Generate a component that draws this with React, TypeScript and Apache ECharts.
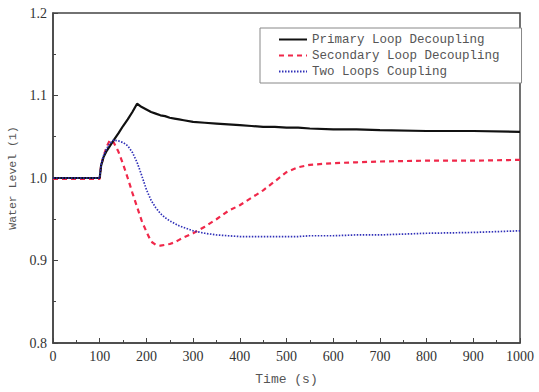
import React, { useEffect, useRef } from "react";
import * as echarts from "echarts";

const timeS = [0, 100, 103, 108, 115, 122, 130, 140, 150, 160, 170, 180, 190, 200, 210, 220, 230, 240, 250, 260, 270, 280, 300, 325, 350, 375, 400, 425, 450, 475, 500, 525, 550, 600, 650, 700, 800, 900, 1000];

const primaryLoop = [1.0, 1.0, 1.015, 1.025, 1.033, 1.039, 1.046, 1.054, 1.063, 1.071, 1.08, 1.09, 1.086, 1.083, 1.08, 1.078, 1.076, 1.075, 1.073, 1.072, 1.071, 1.07, 1.068, 1.067, 1.066, 1.065, 1.064, 1.063, 1.062, 1.062, 1.061, 1.061, 1.06, 1.059, 1.059, 1.058, 1.057, 1.057, 1.056];

const secondaryLoop = [0.999, 0.999, 1.015, 1.026, 1.038, 1.046, 1.043, 1.032, 1.017, 1.0, 0.982, 0.965, 0.948, 0.935, 0.923, 0.919, 0.918, 0.919, 0.92, 0.922, 0.925, 0.928, 0.933, 0.941, 0.95, 0.96, 0.967, 0.976, 0.985, 0.996, 1.007, 1.013, 1.016, 1.018, 1.019, 1.02, 1.021, 1.021, 1.022];

const twoLoops = [1.0, 1.0, 1.016, 1.027, 1.036, 1.042, 1.046, 1.045, 1.043, 1.039, 1.031, 1.019, 1.003, 0.986, 0.973, 0.964, 0.957, 0.952, 0.948, 0.945, 0.942, 0.94, 0.936, 0.933, 0.931, 0.93, 0.929, 0.929, 0.929, 0.929, 0.929, 0.929, 0.93, 0.93, 0.931, 0.931, 0.933, 0.934, 0.936];

const seriesNames = ["Primary Loop Decoupling", "Secondary Loop Decoupling", "Two Loops Coupling"];

const pair = (vals: number[]) => timeS.map((t, i) => [t, vals[i]]);

export default function App() {
  const ref = useRef<HTMLDivElement>(null);
  useEffect(() => {
    if (!ref.current) return;
    const chart = echarts.init(ref.current, null, { renderer: "svg" });
    const serif = "Liberation Serif";
    const mono = "Liberation Mono";
    chart.setOption({
      animation: false,
      backgroundColor: "#fff",
      textStyle: { fontFamily: serif },
      grid: {
        left: 53, right: 19, top: 13, bottom: 49,
        outerBoundsMode: "none",
        containLabel: false,
        show: true, borderColor: "#444", borderWidth: 1.5, backgroundColor: "transparent",
      },
      legend: {
        orient: "vertical",
        left: 260,
        top: 28,
        padding: [5, 22, 5, 18],
        itemGap: 3,
        itemWidth: 28,
        itemHeight: 12,
        borderColor: "#888",
        borderWidth: 1,
        backgroundColor: "#fff",
        itemStyle: { opacity: 0 },
        textStyle: { fontFamily: mono, fontSize: 12.5, color: "#555" },
        data: seriesNames,
      },
      xAxis: {
        type: "value",
        min: 0,
        max: 1000,
        interval: 100,
        name: "Time (s)",
        nameLocation: "middle",
        nameGap: 30,
        nameTextStyle: { fontFamily: mono, fontSize: 13, color: "#555" },
        axisLine: { lineStyle: { color: "#444", width: 1.5 } },
        axisTick: { inside: true, length: 5, lineStyle: { color: "#444" } },
        minorTick: { show: true, splitNumber: 2, length: 3, lineStyle: { color: "#444" } },
        splitLine: { show: false },
        axisLabel: { fontFamily: serif, fontSize: 14, color: "#333", margin: 6, formatter: (v: number) => String(v) },
      },
      yAxis: {
        type: "value",
        min: 0.8,
        max: 1.2,
        interval: 0.1,
        name: "Water Level (1)",
        nameLocation: "middle",
        nameGap: 33,
        nameTextStyle: { fontFamily: mono, fontSize: 11.5, color: "#555" },
        axisLine: { show: true, lineStyle: { color: "#444", width: 1.5 } },
        axisTick: { show: true, inside: true, length: 5, lineStyle: { color: "#444" } },
        minorTick: { show: true, splitNumber: 2, length: 3, lineStyle: { color: "#444" } },
        splitLine: { show: false },
        axisLabel: { fontFamily: serif, fontSize: 14, color: "#333", margin: 6, formatter: (v: number) => v.toFixed(1) },
      },
      series: [
        {
          name: seriesNames[0],
          type: "line",
          data: pair(primaryLoop),
          symbol: "none",
          itemStyle: { color: "#111" },
          lineStyle: { color: "#111", width: 2.2 },
          z: 3,
        },
        {
          name: seriesNames[1],
          type: "line",
          data: pair(secondaryLoop),
          symbol: "none",
          itemStyle: { color: "#f0284a" },
          lineStyle: { color: "#f0284a", width: 2.2, type: [5, 4] },
          z: 2,
        },
        {
          name: seriesNames[2],
          type: "line",
          data: pair(twoLoops),
          symbol: "none",
          itemStyle: { color: "#3030b8" },
          lineStyle: { color: "#3030b8", width: 1.7, type: [1.5, 1.5] },
          z: 4,
        },
      ],
    });
    return () => chart.dispose();
  }, []);
  return <div ref={ref} style={{ width: 539, height: 392, position: "absolute", left: 0, top: 0 }} />;
}
